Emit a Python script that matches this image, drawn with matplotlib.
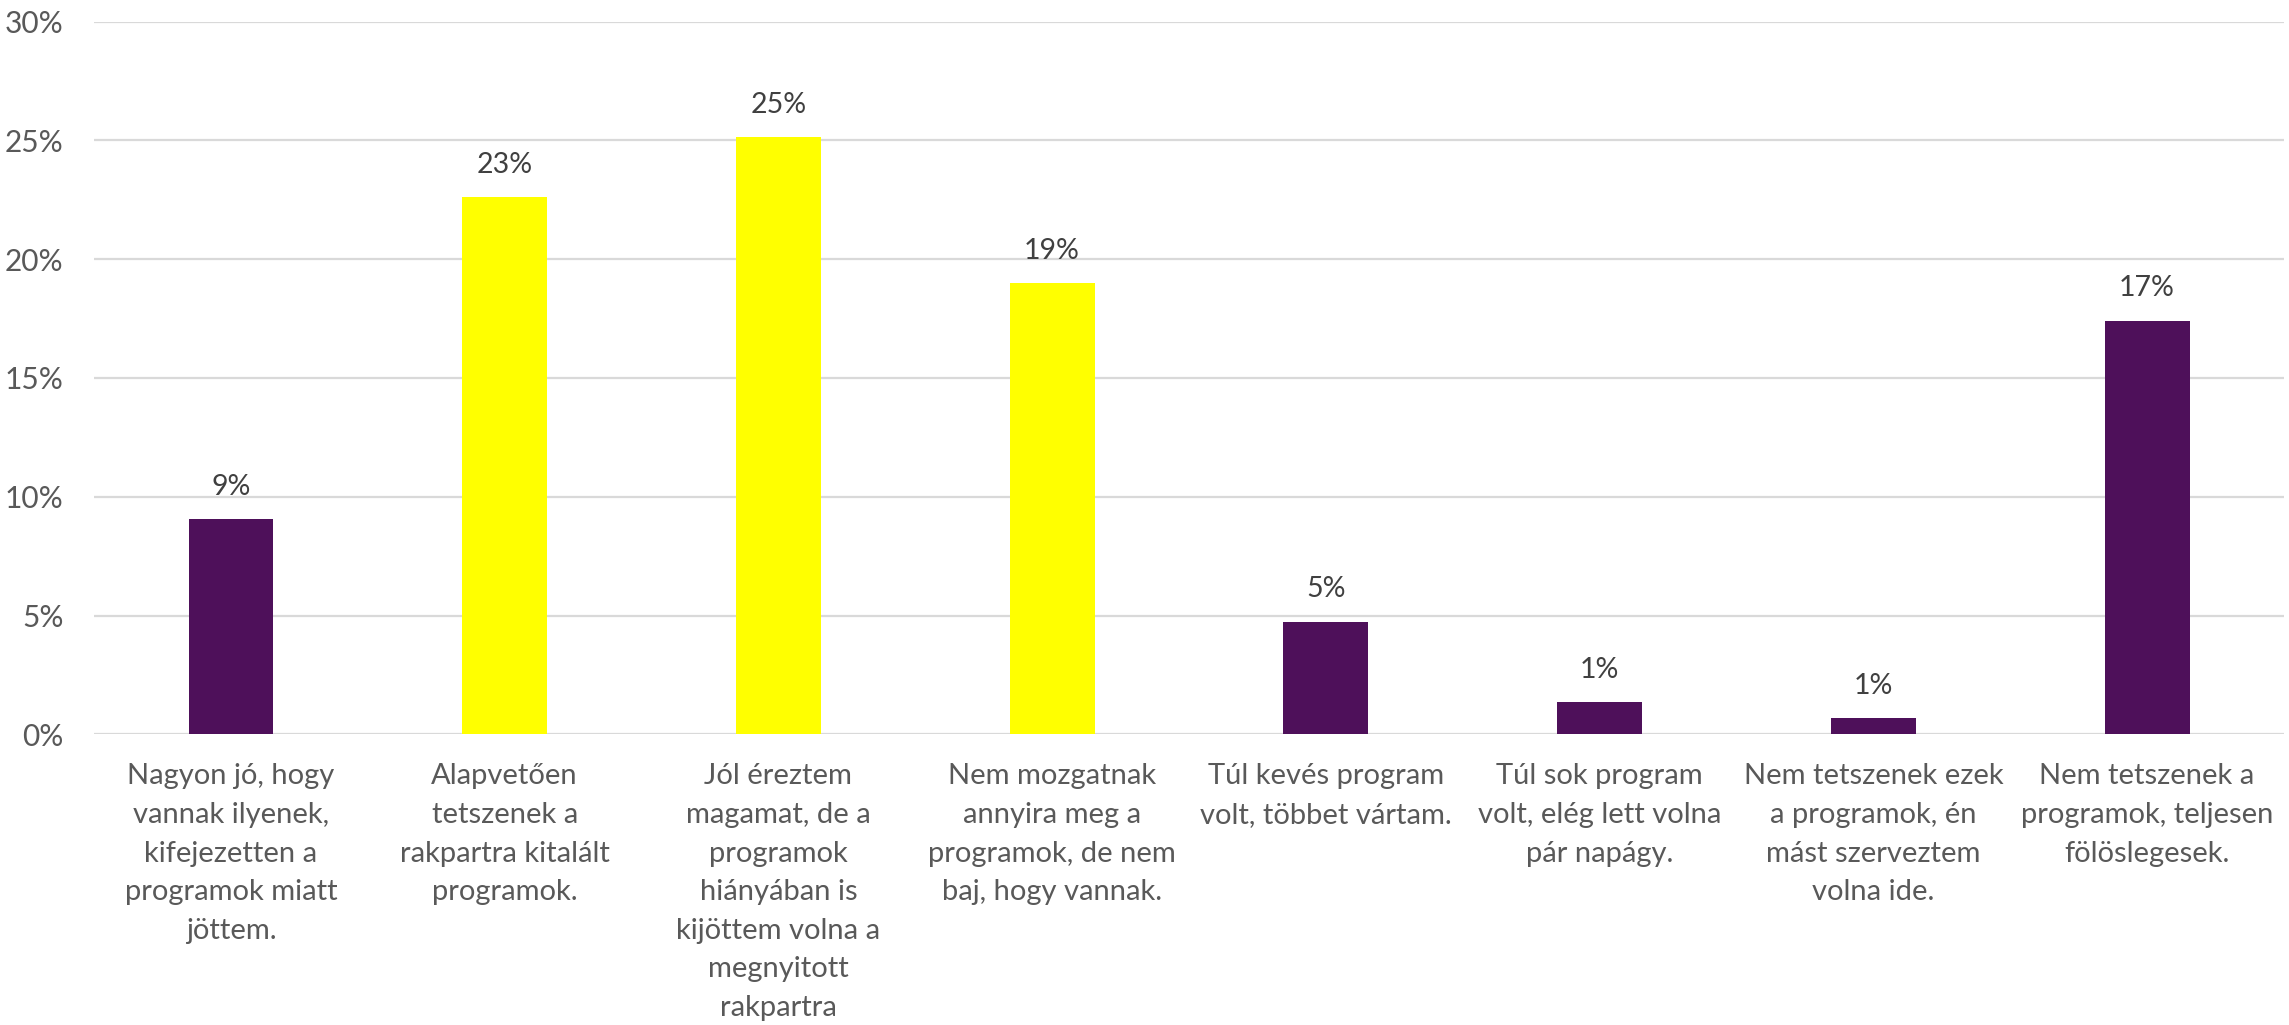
# -*- coding: utf-8 -*-
"""
Programok értékelése – oszlopdiagram
"""
import matplotlib
matplotlib.use('Agg')
import matplotlib.pyplot as plt
from matplotlib.ticker import PercentFormatter

plt.rcParams['font.family'] = ['Lato', 'DejaVu Sans']

# ======================== adatok ========================
categories = [
    'Nagyon jó, hogy\nvannak ilyenek,\nkifejezetten a\nprogramok miatt\njöttem.',
    'Alapvetően\ntetszenek a\nrakpartra kitalált\nprogramok.',
    'Jól éreztem\nmagamat, de a\nprogramok\nhiányában is\nkijöttem volna a\nmegnyitott\nrakpartra',
    'Nem mozgatnak\nannyira meg a\nprogramok, de nem\nbaj, hogy vannak.',
    'Túl kevés program\nvolt, többet vártam.',
    'Túl sok program\nvolt, elég lett volna\npár napágy.',
    'Nem tetszenek ezek\na programok, én\nmást szerveztem\nvolna ide.',
    'Nem tetszenek a\nprogramok, teljesen\nfölöslegesek.',
]
values = [9.05, 22.61, 25.14, 18.99, 4.74, 1.35, 0.67, 17.41]
labels = ['9%', '23%', '25%', '19%', '5%', '1%', '1%', '17%']
bar_colors = ['#4E105A', '#FFFF00', '#FFFF00', '#FFFF00',
              '#4E105A', '#4E105A', '#4E105A', '#4E105A']
yticks = [0, 5, 10, 15, 20, 25, 30]

fig = plt.figure(figsize=(22.89, 10.25), dpi=100)
ax = fig.add_axes([0.0411, 0.2836, 0.9567, 0.6954])

x = range(len(categories))
bars = ax.bar(x, values, width=0.31, color=bar_colors, zorder=3)

# 数据标签
for bar, lab in zip(bars, labels):
    ax.annotate(lab, (bar.get_x() + bar.get_width() / 2, bar.get_height()),
                xytext=(0, 14), textcoords='offset points',
                ha='center', va='bottom', fontsize=20.5, color='#404040')

ax.set_xlim(-0.5, len(categories) - 0.5)
ax.set_ylim(0, 30)
ax.set_yticks(yticks)
ax.yaxis.set_major_formatter(PercentFormatter(decimals=0))
ax.grid(True, axis='y', color='#D9D9D9', linewidth=1.6, zorder=0)
for s in ax.spines.values():
    s.set_visible(False)

ax.set_xticks(list(x))
ax.set_xticklabels(categories, fontsize=21, color='#595959')
for t in ax.get_xticklabels():
    t.set_linespacing(1.6)
ax.tick_params(axis='x', length=0, pad=21)
ax.tick_params(axis='y', length=0, pad=22, labelsize=21.5, labelcolor='#595959')

plt.savefig('out.png', dpi=100)
plt.close()
